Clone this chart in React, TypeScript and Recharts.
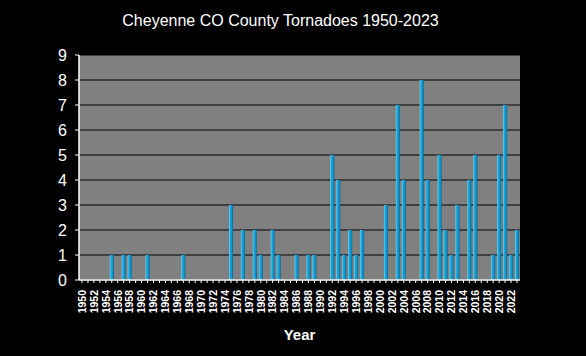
import { BarChart, Bar, XAxis, YAxis, CartesianGrid } from 'recharts'

const YEARS = [
  1950, 1951, 1952, 1953, 1954, 1955, 1956, 1957, 1958, 1959,
  1960, 1961, 1962, 1963, 1964, 1965, 1966, 1967, 1968, 1969,
  1970, 1971, 1972, 1973, 1974, 1975, 1976, 1977, 1978, 1979,
  1980, 1981, 1982, 1983, 1984, 1985, 1986, 1987, 1988, 1989,
  1990, 1991, 1992, 1993, 1994, 1995, 1996, 1997, 1998, 1999,
  2000, 2001, 2002, 2003, 2004, 2005, 2006, 2007, 2008, 2009,
  2010, 2011, 2012, 2013, 2014, 2015, 2016, 2017, 2018, 2019,
  2020, 2021, 2022, 2023,
]

const TORNADOES = [
  0, 0, 0, 0, 0, 1, 0, 1, 1, 0,
  0, 1, 0, 0, 0, 0, 0, 1, 0, 0,
  0, 0, 0, 0, 0, 3, 0, 2, 0, 2,
  1, 0, 2, 1, 0, 0, 1, 0, 1, 1,
  0, 0, 5, 4, 1, 2, 1, 2, 0, 0,
  0, 3, 0, 7, 4, 0, 0, 8, 4, 0,
  5, 2, 1, 3, 0, 4, 5, 0, 0, 1,
  5, 7, 1, 2,
]

const Y_TICKS = [0, 1, 2, 3, 4, 5, 6, 7, 8, 9]

const data = YEARS.map((year, i) => ({ year, count: TORNADOES[i] }))

const FONT = '"Liberation Sans", Arial, sans-serif'

// only even years get a label, every year keeps its tick mark
function YearTick({ x, y, payload }: any) {
  const yr = payload.value as number
  if (yr % 2 !== 0) return null
  return (
    <g transform={`translate(${x},${y + 5})`}>
      <text
        transform="rotate(-90)"
        textAnchor="end"
        dy={3.8}
        fill="#fff"
        fontSize={10.5}
        fontWeight="bold"
        fontFamily={FONT}
      >
        {yr}
      </text>
    </g>
  )
}

export default function App() {
  return (
    <div
      style={{
        position: 'absolute',
        left: 0,
        top: 0,
        width: 586,
        height: 356,
        background: '#000',
        fontFamily: FONT,
      }}
    >
      <div
        style={{
          position: 'absolute',
          left: 0,
          top: 13,
          width: 561,
          textAlign: 'center',
          color: '#fff',
          fontSize: 16,
          lineHeight: '16px',
        }}
      >
        Cheyenne CO County Tornadoes 1950-2023
      </div>
      <BarChart
        width={586}
        height={356}
        data={data}
        margin={{ top: 55, right: 66, left: 0, bottom: 10 }}
        barSize={4}
      >
        <defs>
          <linearGradient id="barGrad" x1="0" y1="0" x2="1" y2="0">
            <stop offset="0%" stopColor="#6fd6f7" />
            <stop offset="30%" stopColor="#18a8de" />
            <stop offset="75%" stopColor="#0a90c8" />
            <stop offset="100%" stopColor="#055f88" />
          </linearGradient>
        </defs>
        <CartesianGrid fill="#808080" stroke="#000" strokeWidth={1.2} vertical={false} />
        <XAxis
          dataKey="year"
          interval={0}
          height={66}
          tick={<YearTick />}
          tickLine={{ stroke: '#fff' }}
          tickSize={3}
          axisLine={{ stroke: '#fff', strokeWidth: 1.5 }}
          label={{
            value: 'Year',
            position: 'insideBottom',
            offset: 6,
            fill: '#fff',
            fontSize: 15,
            fontWeight: 'bold',
            fontFamily: FONT,
          }}
        />
        <XAxis
          xAxisId="top"
          orientation="top"
          dataKey="year"
          height={0}
          tick={false}
          tickLine={false}
          axisLine={{ stroke: '#fff', strokeWidth: 1.5 }}
        />
        <YAxis
          domain={[0, 9]}
          ticks={Y_TICKS}
          interval={0}
          width={79}
          tick={{ fill: '#fff', fontSize: 16, fontFamily: FONT }}
          tickLine={{ stroke: '#fff' }}
          tickSize={4}
          tickMargin={8}
          axisLine={{ stroke: '#fff', strokeWidth: 1.5 }}
        />
        <YAxis
          yAxisId="right"
          orientation="right"
          width={0}
          tick={false}
          tickLine={false}
          axisLine={{ stroke: '#fff', strokeWidth: 1.5 }}
        />
        <Bar dataKey="count" fill="url(#barGrad)" isAnimationActive={false} />
      </BarChart>
    </div>
  )
}
